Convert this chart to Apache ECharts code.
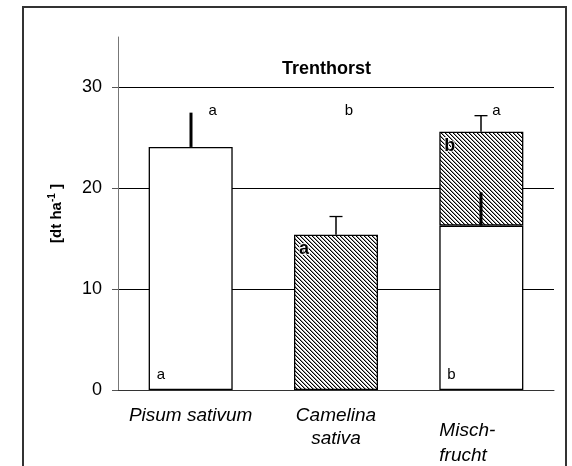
<!DOCTYPE html>
<html><head><meta charset="utf-8">
<script src="https://cdn.jsdelivr.net/npm/echarts@6/dist/echarts.min.js"></script>
<style>html,body{margin:0;padding:0;background:#fff}#c{width:572px;height:466px}</style>
</head><body><div id="c"></div>
<script>
// ---- data ----
const categories = ['Pisum sativum', 'Camelina\nsativa', 'Misch-\nfrucht'];
const yTicks = [0, 10, 20, 30];
const peaMean = [24.1, null, 16.3];      // white part (Pisum)
const peaErrTop = [27.5, null, 19.6];
const camTop = [null, 15.4, 25.6];       // top of hatched part (Camelina)
const camErrTop = [null, 17.2, 27.2];
const sigRow = ['a', 'b', 'a'];
const sigPea = ['a', '', 'b'];
const sigCam = ['', 'a', 'b'];
const sigRowY = 27.7;

// ---- styles ----
const FONT = 'Liberation Sans, Arial, sans-serif';
const sigRowDx = [22, 13, 15];

function makeHatch() {
  const s = 4, c = document.createElement('canvas');
  c.width = s; c.height = s;
  const ctx = c.getContext('2d');
  ctx.fillStyle = '#fff'; ctx.fillRect(0, 0, s, s);
  for (let i = 0; i < s; i++) {
    ctx.fillStyle = '#000'; ctx.fillRect(i, i, 1, 1);
    ctx.fillStyle = '#999'; ctx.fillRect((i + 1) % s, i, 1, 1);
  }
  return c;
}
const hatch = makeHatch();

const camSeg = camTop.map((t, i) => t == null ? null : +(t - (peaMean[i] || 0)).toFixed(2));

function errSeries(mean, top, width, cap) {
  const data = [];
  mean.forEach((m, i) => { if (m != null && top[i] != null) data.push([i, m, top[i]]); });
  return {
    type: 'custom', z: 6, silent: true,
    data,
    encode: { x: 0, y: [1, 2] },
    renderItem(params, api) {
      const p0 = api.coord([api.value(0), api.value(1)]);
      const p1 = api.coord([api.value(0), api.value(2)]);
      const x = Math.round(p0[0]);
      const ch = [{ type: 'line', shape: { x1: x, y1: p0[1], x2: x, y2: p1[1] }, style: { stroke: '#000', lineWidth: width } }];
      if (cap) ch.push({ type: 'line', shape: { x1: x - cap / 2, y1: p1[1], x2: x + cap / 2, y2: p1[1] }, style: { stroke: '#000', lineWidth: 1.3 } });
      return { type: 'group', children: ch };
    }
  };
}

const labelBase = { fontFamily: FONT, fontSize: 19, fontStyle: 'italic', color: '#000' };

const chart = echarts.init(document.getElementById('c'), null, { renderer: 'canvas' });
chart.setOption({
  animation: false,
  backgroundColor: '#fff',
  title: {
    text: 'Trenthorst', left: 277, top: 55,
    textStyle: { fontFamily: FONT, fontSize: 18, fontWeight: 'bold', color: '#000' }
  },
  graphic: [{
    type: 'rect', z: -1, silent: true,
    shape: { x: 23, y: 7, width: 543, height: 480 },
    style: { fill: 'none', stroke: '#333', lineWidth: 2 }
  }],
  grid: { left: 118, right: 18, top: 37, bottom: 76, containLabel: false, outerBoundsMode: 'none' },
  xAxis: {
    type: 'category', data: categories,
    axisLine: { lineStyle: { color: '#333', width: 1 } },
    axisTick: { show: false },
    axisLabel: Object.assign({
      margin: 14, interval: 0, lineHeight: 23,
      formatter: (v, i) => i === 2 ? '{m0| }\n' + v.split('\n').map(s => `{m1|${s}}`).join('\n') : v,
      rich: {
        m0: Object.assign({}, labelBase, { fontSize: 8, lineHeight: 14 }),
        m1: Object.assign({}, labelBase, { lineHeight: 25, width: 84, align: 'left' })
      }
    }, labelBase)
  },
  yAxis: {
    type: 'value', min: 0, max: 35, interval: 10,
    name: '{a|[dt ha}{s|-1}{a| ]}',
    nameLocation: 'middle', nameGap: 52, nameRotate: 90,
    nameTextStyle: {
      rich: {
        a: { fontFamily: FONT, fontSize: 15, fontWeight: 'bold', color: '#000' },
        s: { fontFamily: FONT, fontSize: 10, fontWeight: 'bold', color: '#000', padding: [0, 0, 9, 0] }
      }
    },
    axisLine: { show: true, lineStyle: { color: '#777', width: 1 } },
    axisTick: { show: true, length: 6, inside: false, customValues: yTicks, lineStyle: { color: '#555' } },
    axisLabel: { customValues: yTicks, margin: 16, fontFamily: FONT, fontSize: 18, color: '#000' },
    splitLine: { show: true, showMinLine: false, showMaxLine: true, lineStyle: { color: '#000', width: 1 } }
  },
  series: [
    {
      type: 'bar', stack: 's', data: peaMean, barWidth: 84, z: 3,
      itemStyle: { color: '#fff', borderColor: '#000', borderWidth: 1.3 },
      label: {
        show: true, position: 'insideBottomLeft', distance: 8,
        formatter: p => sigPea[p.dataIndex],
        fontFamily: FONT, fontSize: 15, color: '#000'
      }
    },
    {
      type: 'bar', stack: 's', data: camSeg, barWidth: 84, z: 3,
      itemStyle: { color: { image: hatch, repeat: 'repeat' }, borderColor: '#000', borderWidth: 1.3 },
      label: {
        show: true, position: 'insideTopLeft', distance: 5,
        formatter: p => sigCam[p.dataIndex],
        fontFamily: FONT, fontSize: 18, fontWeight: 'bold', color: '#000',
        textBorderColor: '#fff', textBorderWidth: 1.5
      }
    },
    errSeries(peaMean, peaErrTop, 3, 0),
    errSeries(camTop, camErrTop, 1.5, 13),
    {
      type: 'custom', z: 6, silent: true,
      data: sigRow.map((s, i) => [i, sigRowY]),
      encode: { x: 0, y: 1 },
      renderItem(params, api) {
        const p = api.coord([api.value(0), api.value(1)]);
        return {
          type: 'text',
          style: {
            x: p[0] + sigRowDx[params.dataIndex], y: p[1],
            text: sigRow[params.dataIndex], align: 'center', verticalAlign: 'middle',
            font: '15px ' + FONT, fill: '#000'
          }
        };
      }
    }
  ]
});
</script></body></html>
